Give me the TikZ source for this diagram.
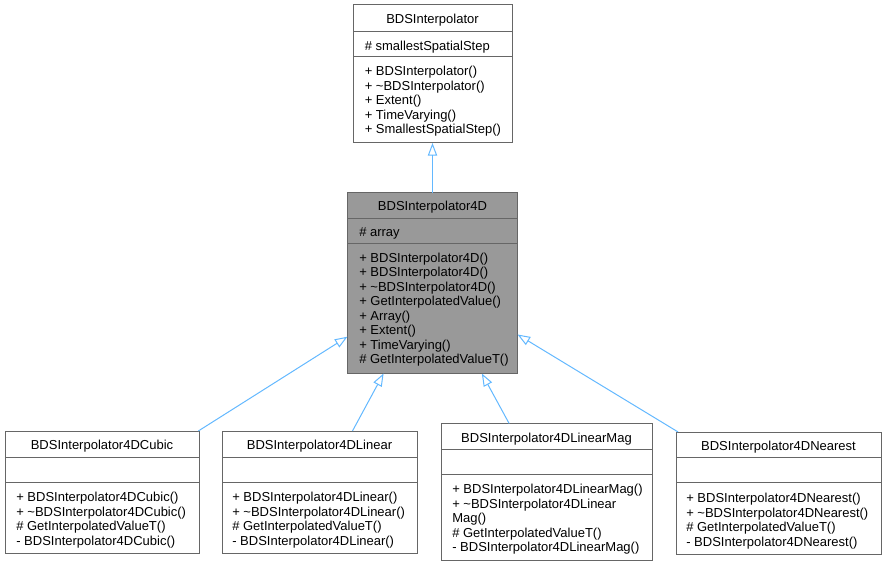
\documentclass[tikz,border=0pt]{standalone}
\usepackage{fontspec}
\setmainfont{Liberation Sans}
\usetikzlibrary{arrows.meta}
\definecolor{boxline}{HTML}{666666}
\definecolor{boxgray}{HTML}{999999}
\definecolor{edgeblue}{HTML}{63B8FF}
\begin{document}
\begin{tikzpicture}[x=0.75pt,y=-0.75pt,
		cls/.style={draw=boxline,line width=0.75pt,fill=white,inner sep=0pt,outer sep=0pt},
		sep/.style={draw=boxline,line width=0.75pt},
		title/.style={anchor=base,inner sep=0pt,font=\fontsize{9.75pt}{11pt}\selectfont},
		mem/.style={anchor=base west,inner sep=0pt,font=\fontsize{9.75pt}{11pt}\selectfont},
		inh/.style={draw=edgeblue,line width=0.75pt,-{Triangle[open,length=9.5pt,width=7pt]}}]
				\useasboundingbox (0,0) rectangle (886,567);
				% BDSInterpolator
				\node[cls,minimum width=119.25pt,minimum height=103.5pt] (base) at (432.5,74) {};
				\draw[sep] (base.west |- 0,32) -- (base.east |- 0,32);
				\draw[sep] (base.west |- 0,57) -- (base.east |- 0,57);
				\node[title] (base-t) at (432.5,24) {BDSInterpolator};
				\node[mem] (base-a1) at (364.5,50.7) {\# smallestSpatialStep};
				\node[mem] (base-m1) at (364.5,75.7) {+ BDSInterpolator()};
				\node[mem] (base-m2) at (364.5,90.2) {+ \textasciitilde BDSInterpolator()};
				\node[mem] (base-m3) at (364.5,104.7) {+ Extent()};
				\node[mem] (base-m4) at (364.5,119.2) {+ TimeVarying()};
				\node[mem] (base-m5) at (364.5,133.7) {+ SmallestSpatialStep()};
				% BDSInterpolator4D
				\node[cls,fill=boxgray,minimum width=127.5pt,minimum height=135.75pt] (fourd) at (432.5,283) {};
				\draw[sep] (fourd.west |- 0,218) -- (fourd.east |- 0,218);
				\draw[sep] (fourd.west |- 0,243.5) -- (fourd.east |- 0,243.5);
				\node[title] (fourd-t) at (432.5,210.5) {BDSInterpolator4D};
				\node[mem] (fourd-a1) at (359,236.5) {\# array};
				\node[mem] (fourd-m1) at (359,262) {+ BDSInterpolator4D()};
				\node[mem] (fourd-m2) at (359,276.5) {+ BDSInterpolator4D()};
				\node[mem] (fourd-m3) at (359,291) {+ \textasciitilde BDSInterpolator4D()};
				\node[mem] (fourd-m4) at (359,305.5) {+ GetInterpolatedValue()};
				\node[mem] (fourd-m5) at (359,320) {+ Array()};
				\node[mem] (fourd-m6) at (359,334.5) {+ Extent()};
				\node[mem] (fourd-m7) at (359,349) {+ TimeVarying()};
				\node[mem] (fourd-m8) at (359,363.5) {\# GetInterpolatedValueT()};
				% BDSInterpolator4DCubic
				\node[cls,minimum width=145.5pt,minimum height=91.5pt] (cubic) at (102,492) {};
				\draw[sep] (cubic.west |- 0,457) -- (cubic.east |- 0,457);
				\draw[sep] (cubic.west |- 0,482) -- (cubic.east |- 0,482);
				\node[title] (cubic-t) at (102,449.5) {BDSInterpolator4DCubic};
				\node[mem] (cubic-m1) at (16,501.5) {+ BDSInterpolator4DCubic()};
				\node[mem] (cubic-m2) at (16,516) {+ \textasciitilde BDSInterpolator4DCubic()};
				\node[mem] (cubic-m3) at (16,530.5) {\# GetInterpolatedValueT()};
				\node[mem] (cubic-m4) at (16,545) {- BDSInterpolator4DCubic()};
				% BDSInterpolator4DLinear
				\node[cls,minimum width=146.25pt,minimum height=91.5pt] (linear) at (319.5,492) {};
				\draw[sep] (linear.west |- 0,457) -- (linear.east |- 0,457);
				\draw[sep] (linear.west |- 0,482) -- (linear.east |- 0,482);
				\node[title] (linear-t) at (319.5,449.5) {BDSInterpolator4DLinear};
				\node[mem] (linear-m1) at (232,501.5) {+ BDSInterpolator4DLinear()};
				\node[mem] (linear-m2) at (232,516) {+ \textasciitilde BDSInterpolator4DLinear()};
				\node[mem] (linear-m3) at (232,530.5) {\# GetInterpolatedValueT()};
				\node[mem] (linear-m4) at (232,545) {- BDSInterpolator4DLinear()};
				% BDSInterpolator4DLinearMag
				\node[cls,minimum width=158.25pt,minimum height=102.75pt] (linmag) at (546.5,492) {};
				\draw[sep] (linmag.west |- 0,449.3) -- (linmag.east |- 0,449.3);
				\draw[sep] (linmag.west |- 0,474.3) -- (linmag.east |- 0,474.3);
				\node[title] (linmag-t) at (546.5,442.5) {BDSInterpolator4DLinearMag};
				\node[mem] (linmag-m1) at (452,493.5) {+ BDSInterpolator4DLinearMag()};
				\node[mem] (linmag-m2) at (452,508) {+ \textasciitilde BDSInterpolator4DLinear};
				\node[mem] (linmag-m3) at (452,522.5) {Mag()};
				\node[mem] (linmag-m4) at (452,537) {\# GetInterpolatedValueT()};
				\node[mem] (linmag-m5) at (452,551.5) {- BDSInterpolator4DLinearMag()};
				% BDSInterpolator4DNearest
				\node[cls,minimum width=153.75pt,minimum height=91.5pt] (nearest) at (778.5,493) {};
				\draw[sep] (nearest.west |- 0,457.5) -- (nearest.east |- 0,457.5);
				\draw[sep] (nearest.west |- 0,482.5) -- (nearest.east |- 0,482.5);
				\node[title] (nearest-t) at (778.5,450) {BDSInterpolator4DNearest};
				\node[mem] (nearest-m1) at (686,502.5) {+ BDSInterpolator4DNearest()};
				\node[mem] (nearest-m2) at (686,517) {+ \textasciitilde BDSInterpolator4DNearest()};
				\node[mem] (nearest-m3) at (686,531.5) {\# GetInterpolatedValueT()};
				\node[mem] (nearest-m4) at (686,546) {- BDSInterpolator4DNearest()};
				% inheritance
				\draw[inh] (fourd) -- (base);
				\draw[inh] (cubic) -- (fourd);
				\draw[inh] (linear) -- (fourd);
				\draw[inh] (linmag) -- (fourd);
				\draw[inh] (nearest) -- (fourd);
\end{tikzpicture}
\end{document}
